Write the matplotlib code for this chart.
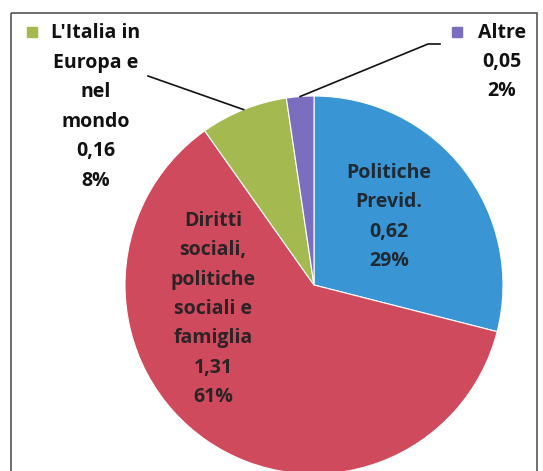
import numpy as np
import matplotlib.pyplot as plt
from matplotlib.patches import Rectangle

# Dati (valori e percentuali)
categorie = ['Politiche\nPrevid.', 'Diritti\nsociali,\npolitiche\nsociali e\nfamiglia',
             "L'Italia in\nEuropa e\nnel\nmondo", 'Altre']
valori = [0.62, 1.31, 0.16, 0.05]
percentuali = [29, 61, 8, 2]
colori = ['#3A95D5', '#D04A5E', '#A4B94F', '#7B6EBE']

plt.rcParams['font.family'] = ['Open Sans', 'DejaVu Sans']

fig = plt.figure(figsize=(5.43, 4.71), dpi=100)
ax = fig.add_axes([0, 0, 1, 1])

centro = (314, 285)
raggio = 189
# asse y invertito (coordinate in pixel): partenza dall'alto, senso orario
wedges, _ = ax.pie(valori, colors=colori, startangle=-90, counterclock=True,
                   center=centro, radius=raggio, frame=True,
                   wedgeprops=dict(linewidth=0.8, edgecolor='white'))
ax.set_xlim(0, 543)
ax.set_ylim(471, 0)
ax.set_aspect('equal')
ax.axis('off')

# cornice
ax.add_patch(Rectangle((11, 13), 526, 480, fill=False, ec='#555555', lw=1.2))

def etichetta(i):
    v = f"{valori[i]:.2f}".replace('.', ',')
    return f"{categorie[i]}\n{v}\n{percentuali[i]}%"

fs = 14
ls = 1.63
# etichette interne
ax.text(389, 217, etichetta(0), ha='center', va='center', fontsize=fs,
        fontweight='bold', color='#1f2a33', linespacing=ls)
ax.text(213, 309, etichetta(1), ha='center', va='center', fontsize=fs,
        fontweight='bold', color='#2b2326', linespacing=ls)
# etichette esterne
ax.text(96, 107, etichetta(2), ha='center', va='center', fontsize=fs,
        fontweight='bold', color='#111111', linespacing=ls)
ax.text(502, 62, etichetta(3), ha='center', va='center', fontsize=fs,
        fontweight='bold', color='#111111', linespacing=ls)

# quadratini legenda
ax.add_patch(Rectangle((27, 27), 9.5, 9.5, color=colori[2]))
ax.add_patch(Rectangle((452, 27), 9.5, 9.5, color=colori[3]))

# linee di richiamo verso il centro degli spicchi
def bordo(w):
    a = np.deg2rad((w.theta1 + w.theta2) / 2)
    return centro[0] + raggio * np.cos(a), centro[1] + raggio * np.sin(a)

x2, y2 = bordo(wedges[2])
ax.plot([148, x2], [76, y2], color='#111111', lw=1.2)
x3, y3 = bordo(wedges[3])
ax.plot([440, 428, x3], [44, 44, y3], color='#111111', lw=1.2)

fig.savefig('out.png', dpi=100)
